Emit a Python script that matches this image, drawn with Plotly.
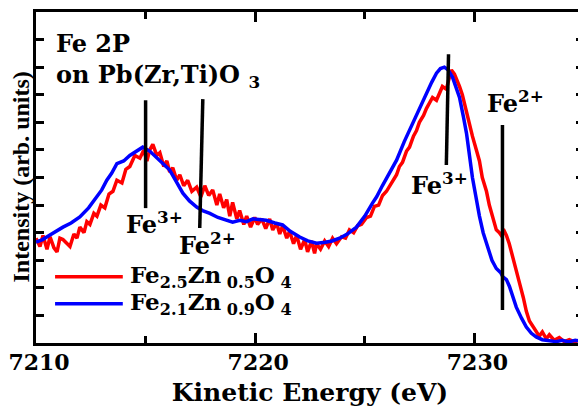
import plotly.graph_objects as go

# ---- data ----
red_name = "Fe<sub>2.5</sub>Zn<sub> 0.5</sub>O<sub> 4</sub>"
blue_name = "Fe<sub>2.1</sub>Zn<sub> 0.9</sub>O<sub> 4</sub>"

red_energy = [7210.00, 7210.18, 7210.32, 7210.50, 7210.64, 7210.82, 7210.96, 7211.09, 7211.23, 7211.41,
              7211.55, 7211.73, 7211.87, 7212.00, 7212.19, 7212.32, 7212.46, 7212.64, 7212.78, 7212.96,
              7213.14, 7213.33, 7213.51, 7213.69, 7213.92, 7214.10, 7214.28, 7214.51, 7214.74, 7214.92,
              7215.06, 7215.19, 7215.33, 7215.51, 7215.65, 7215.83, 7215.97, 7216.10, 7216.24, 7216.42,
              7216.56, 7216.74, 7216.92, 7217.11, 7217.33, 7217.52, 7217.70, 7217.88, 7218.06, 7218.25,
              7218.38, 7218.56, 7218.70, 7218.84, 7218.97, 7219.16, 7219.29, 7219.48, 7219.61, 7219.79,
              7219.98, 7220.11, 7220.30, 7220.48, 7220.66, 7220.80, 7220.98, 7221.12, 7221.25, 7221.44,
              7221.57, 7221.75, 7221.89, 7222.07, 7222.26, 7222.39, 7222.57, 7222.71, 7222.80, 7222.98,
              7223.17, 7223.35, 7223.53, 7223.71, 7223.94, 7224.12, 7224.30, 7224.49, 7224.67, 7224.85,
              7225.08, 7225.26, 7225.44, 7225.63, 7225.81, 7225.99, 7226.13, 7226.31, 7226.45, 7226.58,
              7226.72, 7226.90, 7227.04, 7227.22, 7227.36, 7227.49, 7227.68, 7227.81, 7227.95, 7228.09,
              7228.27, 7228.41, 7228.54, 7228.72, 7228.86, 7228.95, 7229.09, 7229.18, 7229.32, 7229.45,
              7229.59, 7229.77, 7229.91, 7230.09, 7230.23, 7230.36, 7230.55, 7230.68, 7230.82, 7231.00,
              7231.14, 7231.23, 7231.37, 7231.46, 7231.59, 7231.73, 7231.91, 7232.05, 7232.23, 7232.37,
              7232.51, 7232.64, 7232.82, 7232.96, 7233.10, 7233.28, 7233.42, 7233.64, 7233.87, 7234.10,
              7234.33, 7234.56, 7234.78, 7234.97]
red_intensity = [3.80, 3.50, 3.90, 3.40, 3.85, 3.45, 3.30, 3.80, 3.75, 3.60,
                 3.50, 3.95, 3.80, 4.20, 4.00, 4.40, 4.30, 4.70, 4.60, 5.00,
                 4.90, 5.40, 5.50, 5.90, 5.80, 6.30, 6.40, 6.80, 6.70, 7.00,
                 6.60, 7.00, 7.20, 6.80, 6.90, 6.40, 6.60, 6.20, 6.35, 5.90,
                 6.10, 5.70, 5.90, 5.50, 5.65, 5.30, 5.70, 5.35, 5.55, 5.00,
                 5.40, 4.90, 5.20, 4.60, 5.10, 4.50, 4.80, 4.30, 4.60, 4.20,
                 4.55, 4.30, 4.50, 4.15, 4.50, 4.10, 4.35, 3.95, 4.25, 3.80,
                 4.05, 3.60, 3.90, 3.40, 3.75, 3.30, 3.70, 3.25, 3.60, 3.40,
                 3.70, 3.50, 3.80, 3.60, 3.85, 3.80, 4.10, 4.00, 4.25, 4.30,
                 4.55, 4.60, 4.95, 5.00, 5.35, 5.50, 5.70, 5.90, 6.10, 6.40,
                 6.55, 6.95, 7.10, 7.50, 7.70, 8.00, 8.25, 8.50, 8.70, 8.90,
                 8.80, 9.10, 9.30, 9.20, 9.60, 9.90, 9.75, 9.60, 9.30, 9.00,
                 8.50, 8.00, 7.50, 7.00, 6.60, 6.00, 5.50, 5.00, 4.60, 4.10,
                 4.00, 3.90, 4.05, 3.90, 3.60, 3.20, 2.70, 2.20, 1.65, 1.15,
                 0.80, 0.65, 0.45, 0.25, 0.40, 0.15, 0.30, 0.10, 0.20, 0.05,
                 0.12, 0.04, 0.10, 0.06]

blue_energy = [7210.00, 7210.30, 7210.60, 7210.90, 7211.23, 7211.60, 7212.00, 7212.40, 7212.78, 7213.00,
               7213.23, 7213.45, 7213.69, 7214.00, 7214.28, 7214.60, 7214.87, 7215.20, 7215.51, 7215.80,
               7216.10, 7216.40, 7216.70, 7217.00, 7217.33, 7217.60, 7217.93, 7218.30, 7218.70, 7218.97,
               7219.30, 7219.60, 7219.90, 7220.20, 7220.50, 7220.90, 7221.25, 7221.60, 7222.03, 7222.40,
               7222.80, 7223.20, 7223.50, 7223.85, 7224.20, 7224.62, 7225.00, 7225.35, 7225.54, 7225.80,
               7226.13, 7226.45, 7226.80, 7227.18, 7227.50, 7227.81, 7228.05, 7228.27, 7228.45, 7228.63,
               7228.80, 7229.00, 7229.15, 7229.32, 7229.50, 7229.64, 7229.91, 7230.09, 7230.23, 7230.40,
               7230.55, 7230.80, 7231.00, 7231.20, 7231.30, 7231.46, 7231.60, 7231.91, 7232.15, 7232.37,
               7232.60, 7232.82, 7233.10, 7233.40, 7233.74, 7234.00, 7234.30, 7234.60, 7234.92]
blue_intensity = [3.66, 3.75, 3.90, 4.05, 4.20, 4.35, 4.57, 4.90, 5.30, 5.55,
                  5.90, 6.15, 6.50, 6.60, 6.80, 6.95, 7.10, 6.95, 6.70, 6.50,
                  6.27, 5.85, 5.43, 5.15, 4.93, 4.80, 4.70, 4.55, 4.46, 4.38,
                  4.45, 4.40, 4.50, 4.46, 4.45, 4.35, 4.28, 4.05, 3.84, 3.70,
                  3.62, 3.65, 3.70, 3.80, 3.95, 4.20, 4.60, 5.07, 5.30, 5.70,
                  6.16, 6.63, 7.30, 7.97, 8.55, 9.06, 9.45, 9.78, 9.95, 10.00,
                  9.90, 9.64, 9.30, 8.90, 8.20, 7.60, 6.00, 5.20, 4.60, 4.00,
                  3.60, 3.00, 2.70, 2.55, 2.40, 2.30, 2.05, 1.30, 0.90, 0.58,
                  0.35, 0.22, 0.12, 0.08, 0.05, 0.10, 0.04, 0.10, 0.05]

x_tick_values = [7210, 7220, 7230]
x_tick_labels = ["7210", "7220", "7230"]

WIDE = "DejaVu Serif, serif"
TIMES = "Liberation Serif, Times New Roman, serif"

fig = go.Figure()
fig.add_trace(go.Scatter(x=red_energy, y=red_intensity, mode="lines", name=red_name,
                         line=dict(color="#ff0000", width=3.5), showlegend=False))
fig.add_trace(go.Scatter(x=blue_energy, y=blue_intensity, mode="lines", name=blue_name,
                         line=dict(color="#0000ff", width=3.5), showlegend=False))

# marker lines for the valence states
marker_lines = [
    (7215.00, 8.80, 7215.00, 4.89),
    (7217.61, 8.84, 7217.47, 4.17),
    (7228.82, 10.47, 7228.72, 6.45),
    (7231.28, 7.90, 7231.28, 1.20),
]
for x0, y0, x1, y1 in marker_lines:
    fig.add_shape(type="line", xref="x", yref="y", x0=x0, y0=y0, x1=x1, y1=y1,
                  line=dict(color="black", width=3.5))

labels = [
    (7215.42, 4.35, "Fe<sup>3+</sup>"),
    (7217.84, 3.60, "Fe<sup>2+</sup>"),
    (7228.40, 5.75, "Fe<sup>3+</sup>"),
    (7231.87, 8.75, "Fe<sup>2+</sup>"),
]
for x, y, t in labels:
    fig.add_annotation(x=x, y=y, xref="x", yref="y", text="<b>" + t + "</b>", showarrow=False,
                       xanchor="center", yanchor="middle",
                       font=dict(family=WIDE, size=24, color="black"))

fig.add_annotation(x=7210.80, y=11.45, xref="x", yref="y",
                   text="<b>Fe 2P<br>on Pb(Zr,Ti)O <sub>3</sub></b>", showarrow=False,
                   xanchor="left", yanchor="top", align="left",
                   font=dict(family=WIDE, size=24, color="black"))

# legend drawn by hand (line samples + labels)
legend_rows = [(2.40, "#ff0000", red_name), (1.42, "#0000ff", blue_name)]
for y, c, t in legend_rows:
    fig.add_shape(type="line", xref="x", yref="y", x0=7210.87, x1=7213.96, y0=y, y1=y,
                  line=dict(color=c, width=3.5))
    fig.add_annotation(x=7214.2, y=y, xref="x", yref="y", text="<b>" + t + "</b>",
                       showarrow=False, xanchor="left", yanchor="middle",
                       font=dict(family=WIDE, size=23, color="black"))

# y-axis title as a rotated annotation hugging the axis line
fig.add_annotation(x=0, y=0.5, xref="paper", yref="paper", xanchor="right", yanchor="middle",
                   xshift=-1, text="<b>Intensity (arb. units)</b>", textangle=-90, showarrow=False,
                   font=dict(family=TIMES, size=24, color="black"))

fig.update_layout(
    width=578, height=402,
    margin=dict(l=28, r=2, t=4, b=67),
    paper_bgcolor="white", plot_bgcolor="white",
    font=dict(family=WIDE, color="black"),
)
fig.update_xaxes(
    range=[7210, 7235], tickvals=x_tick_values, ticktext=x_tick_labels,
    showline=True, linecolor="black", linewidth=3, mirror="ticks",
    ticks="inside", ticklen=10, tickwidth=3, tickcolor="black",
    minor=dict(tickvals=[7215, 7225], ticks="inside", ticklen=7, tickwidth=3, tickcolor="black"),
    showgrid=False, zeroline=False, automargin=False, ticklabelstandoff=-2,
    ticklabelshift=3, ticklabeloverflow="allow",
    tickfont=dict(family=WIDE, size=22, color="black", weight="bold"),
    title=dict(text="<b>Kinetic Energy (eV)</b>", font=dict(family=WIDE, size=25, color="black"),
               standoff=10),
)
fig.update_yaxes(
    range=[0, 12], dtick=1, showticklabels=False,
    showline=True, linecolor="black", linewidth=3, mirror="ticks",
    ticks="inside", ticklen=8, tickwidth=3, tickcolor="black",
    showgrid=False, zeroline=False, automargin=False,
)

fig.write_html("out.html")
